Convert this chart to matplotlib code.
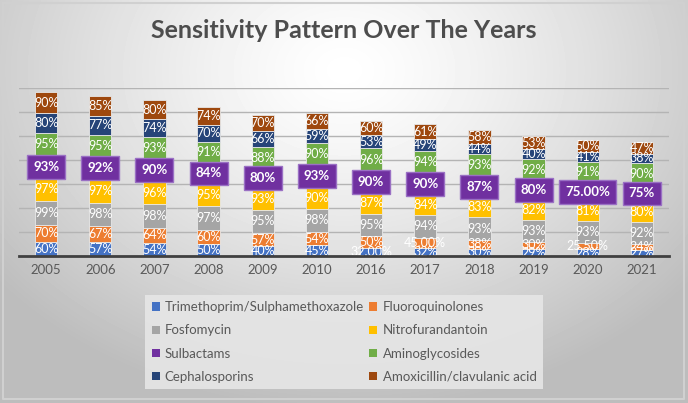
import numpy as np
import matplotlib.pyplot as plt
from matplotlib.patches import Patch

years = ['2005', '2006', '2007', '2008', '2009', '2010', '2016', '2017', '2018', '2019', '2020', '2021']
series_names = ['Trimethoprim/Sulphamethoxazole', 'Fluoroquinolones', 'Fosfomycin', 'Nitrofurandantoin',
                'Sulbactams', 'Aminoglycosides', 'Cephalosporins', 'Amoxicillin/clavulanic acid']

tmp_smx = [60, 57, 54, 50, 40, 45, 32, 32, 30, 29, 28, 27]
fluoro = [70, 67, 64, 60, 57, 54, 50, 45, 38, 30, 25.5, 24]
fosfo = [99, 98, 98, 97, 95, 98, 95, 94, 93, 93, 93, 92]
nitro = [97, 97, 96, 95, 93, 90, 87, 84, 83, 82, 81, 80]
sulb = [93, 92, 90, 84, 80, 93, 90, 90, 87, 80, 75, 75]
amino = [95, 95, 93, 91, 88, 90, 96, 94, 93, 92, 91, 90]
ceph = [80, 77, 74, 70, 66, 59, 53, 49, 44, 40, 41, 38]
amox = [90, 85, 80, 74, 70, 66, 60, 61, 58, 53, 50, 47]

# labels that Excel showed with two decimals
label_fmt = {
    (0, 6): '32.00%',
    (1, 7): '45.00%',
    (1, 10): '25.50%',
    (4, 10): '75.00%',
}

colors = ['#4472C4', '#ED7D31', '#A5A5A5', '#FFC000', '#7030A0', '#70AD47', '#264478', '#9E480E']

all_series = [tmp_smx, fluoro, fosfo, nitro, sulb, amino, ceph, amox]

plt.rcParams['font.family'] = ['Lato', 'DejaVu Sans']

fig = plt.figure(figsize=(6.88, 4.03), dpi=100)

# radial gradient background
bg = fig.add_axes([0, 0, 1, 1], zorder=-10)
yy, xx = np.mgrid[0:403, 0:688]
r = np.sqrt(((xx - 344) / 430.0) ** 2 + ((yy - 70) / 330.0) ** 2)
shade = np.clip(1.0 - 0.25 * r ** 1.3, 0.74, 1.0)
bg.imshow(shade, cmap='gray', vmin=0, vmax=1, extent=[0, 688, 403, 0], aspect='auto')
bg.plot([3, 684, 684, 3, 3], [3, 3, 399, 399, 3], color='#d0d0d0', lw=1.5)
bg.set_xlim(0, 688)
bg.set_ylim(403, 0)
bg.axis('off')

ax = fig.add_axes([19 / 688, 147 / 403, 650 / 688, 168 / 403])
ax.patch.set_alpha(0)
x = np.arange(len(years))
bottom = np.zeros(len(years))
for i, vals in enumerate(all_series):
    vals = np.array(vals, dtype=float)
    ax.bar(x, vals, width=0.41, bottom=bottom, color=colors[i], edgecolor='#e8e8e8',
           linewidth=0.6, zorder=3)
    for j, v in enumerate(vals):
        txt = label_fmt.get((i, j), '%d%%' % v)
        yc = bottom[j] + v / 2
        if i == 4:
            ax.text(x[j], yc, txt, ha='center', va='center', color='white', fontsize=9.5,
                    fontweight='bold', zorder=5,
                    bbox=dict(boxstyle='square,pad=0.45', fc='#7030A0', ec='#9a70c4', lw=1))
        else:
            ax.text(x[j], yc, txt, ha='center', va='center', color='white', fontsize=9, zorder=4)
    bottom += vals

ax.set_ylim(0, 700)
ax.set_xlim(-0.5, len(years) - 0.5)
ax.set_yticks(np.arange(0, 701, 100))
ax.yaxis.grid(True, color='#b4b4b4', linewidth=1, zorder=0)
ax.set_yticklabels([])
ax.tick_params(axis='y', length=0)
ax.set_xticks(x)
ax.set_xticklabels(years, color='#595959', fontsize=9.5)
ax.tick_params(axis='x', length=0, pad=6)
for s in ['top', 'right', 'left']:
    ax.spines[s].set_visible(False)
ax.spines['bottom'].set_color('#404040')
ax.spines['bottom'].set_linewidth(2)
ax.spines['bottom'].set_zorder(6)

fig.text(0.5, 1 - 31 / 403, 'Sensitivity Pattern Over The Years', ha='center', va='center',
         fontsize=18, fontweight='bold', color='#4d4d4d')

# legend reads row by row, matplotlib fills columns, so reorder
order = [0, 2, 4, 6, 1, 3, 5, 7]
handles = [Patch(facecolor=colors[k], edgecolor='none') for k in order]
labels = [series_names[k] for k in order]
leg = fig.legend(handles, labels, ncol=2, loc='center', bbox_to_anchor=(344 / 688, 1 - 342 / 403),
                 frameon=True, fontsize=9.5, handlelength=0.6, handleheight=0.6, handletextpad=0.4,
                 columnspacing=0.4, labelspacing=0.85, borderpad=0.5, fancybox=False)
leg.get_frame().set_facecolor('#e6e6e6')
leg.get_frame().set_edgecolor('none')
leg.get_frame().set_alpha(0.9)
for t in leg.get_texts():
    t.set_color('#595959')

fig.savefig('out.png', dpi=100)
